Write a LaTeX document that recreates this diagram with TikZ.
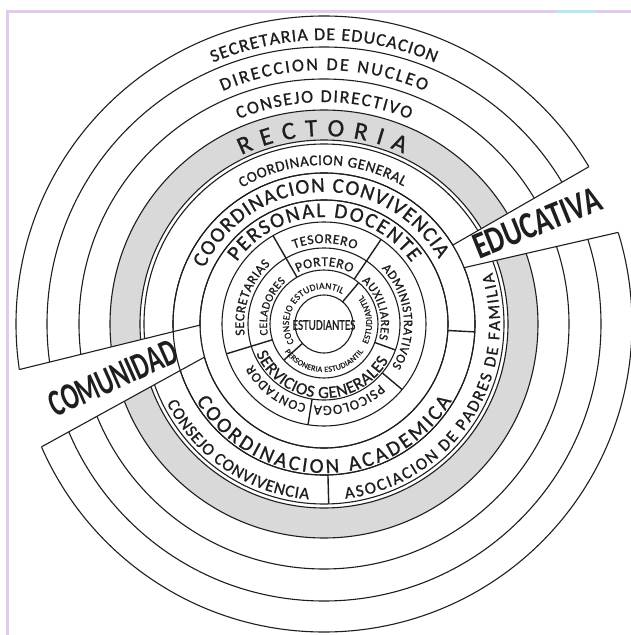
\documentclass[tikz,border=0pt]{standalone}
\usepackage{fontspec}
\setmainfont{Carlito}
\newfontfamily\ringfont[FakeBold=0.9]{Carlito}
\newfontfamily\bannerfont{Carlito}
\usetikzlibrary{decorations.text,calc}
\definecolor{bandgray}{HTML}{D9D9D9}
\definecolor{framelilac}{HTML}{E3C9EC}
\definecolor{framecyan}{HTML}{B5E9EE}
\definecolor{inkcol}{HTML}{1E1E1E}
\newcommand{\ringtext}[5]{%
  \path[decorate,decoration={text along path,text align={fit to path},text color=inkcol,
    text={|\ringfont\fontsize{#4}{#4}\selectfont|#5}}]
    (#2:#1) arc[start angle=#2,end angle=#3,radius=#1];}
\begin{document}
\begin{tikzpicture}[x=1pt,y=1pt,
    ring/.style={draw=inkcol,line width=1.1pt},
    divider/.style={draw=inkcol,line width=1.4pt},
    bannertext/.style={font=\bannerfont\bfseries\fontsize{38}{38}\selectfont,text=inkcol,inner sep=0pt}]
  \useasboundingbox (-324,-311) rectangle (307,324);
  \fill[white] (-324,-311) rectangle (307,324);
  \draw[framelilac,line width=3pt] (-316,-311) -- (-316,312) -- (307,312);
  \draw[framecyan,line width=3pt] (233,312) -- (272,312);

  \fill[bandgray,even odd rule] (0,0) circle[radius=214] (0,0) circle[radius=184];
  \foreach \r in {308,277,245,214,184,180,151,124,102,76,54,29}
    \draw[ring] (0,0) circle[radius=\r];

  \draw[divider] (50:29) -- (50:54);
  \draw[divider] (222:29) -- (222:54);
  \draw[divider] (120:54) -- (120:102);
  \draw[divider] (56:54) -- (56:102);
  \draw[divider] (197:54) -- (197:102);
  \draw[divider] (-20:54) -- (-20:76);
  \draw[divider] (-40:76) -- (-40:102);
  \draw[divider] (-99:76) -- (-99:102);
  \draw[divider] (-3:124) -- (-3:151);
  \draw[divider] (271.5:151) -- (271.5:180);

  \coordinate (cu1) at (188.5:308);
  \coordinate (cu2) at (180.5:124);
  \coordinate (cl1) at (203.5:308);
  \coordinate (cl2) at (195.5:124);
  \fill[white] (cu2) -- ($(cu2)!1.05!(cu1)$) -- ($(cl2)!1.05!(cl1)$) -- (cl2)
    arc[start angle=195.5,end angle=180.5,radius=124] -- cycle;
  \draw[ring] (cu2) -- (cu1);
  \draw[ring] (cl2) -- (cl1);
  \draw[ring] (0,0) circle[radius=124];

  \coordinate (eu1) at (30.7:308);
  \coordinate (eu2) at (31.5:151);
  \coordinate (el1) at (17.3:308);
  \coordinate (el2) at (21.9:151);
  \fill[white] (eu2) -- ($(eu2)!1.05!(eu1)$) -- ($(el2)!1.05!(el1)$) -- (el2)
    arc[start angle=21.9,end angle=31.5,radius=151] -- cycle;
  \draw[ring] (eu2) -- (eu1);
  \draw[ring] (el2) -- (el1);
  \draw[ring] (0,0) circle[radius=151];

  \ringtext{284}{113}{67}{18}{SECRETARIA DE EDUCACION}
  \ringtext{254}{113.5}{66.5}{18}{DIRECCION DE NUCLEO}
  \ringtext{222}{112.6}{67.3}{18}{CONSEJO DIRECTIVO}
  \ringtext{188}{116}{65}{25}{RECTORIA}
  \ringtext{159}{121}{60}{15}{COORDINACION GENERAL}
  \ringtext{132}{155}{29.5}{21}{COORDINACION CONVIVENCIA}
  \ringtext{107}{144.5}{35}{21}{PERSONAL DOCENTE}
  \ringtext{81}{111.6}{67}{13.5}{TESORERO}
  \ringtext{58}{117}{62}{13.5}{PORTERO}
  \ringtext{35}{212}{59}{9.5}{CONSEJO ESTUDIANTIL}
  \ringtext{80}{188}{132}{13.5}{SECRETARIAS}
  \ringtext{57}{191}{132}{11.5}{CELADORES}
  \ringtext{80}{44}{-32}{13}{ADMINISTRATIVOS}
  \ringtext{57}{48.7}{-15.4}{12.5}{AUXILIARES}
  \ringtext{82}{257.5}{209.6}{13.5}{CONTADOR}
  \ringtext{82}{313}{263}{14}{PSICOLOGA}
  \ringtext{48}{215}{325}{8}{PERSONERIA ESTUDIANTIL}
  \ringtext{48}{-25}{37}{9}{ESTUDIANTIL}
  \ringtext{74}{203.6}{330.5}{17}{SERVICIOS GENERALES}
  \ringtext{149}{211}{329}{21}{COORDINACION ACADEMICA}
  \ringtext{176}{206.7}{265}{17}{CONSEJO CONVIVENCIA}
  \ringtext{176}{277}{377}{17}{ASOCIACION DE PADRES DE FAMILIA}

  \node[font=\ringfont\fontsize{15}{15}\selectfont,text=inkcol,xscale=0.75] (estudiantes) at (0,-1) {ESTUDIANTES};
  \node[bannertext,rotate=24,xscale=0.66] (comunidad) at (-211,-54) {COMUNIDAD};
  \node[bannertext,rotate=22,xscale=0.75] (educativa) at (213,101) {EDUCATIVA};
\end{tikzpicture}
\end{document}
